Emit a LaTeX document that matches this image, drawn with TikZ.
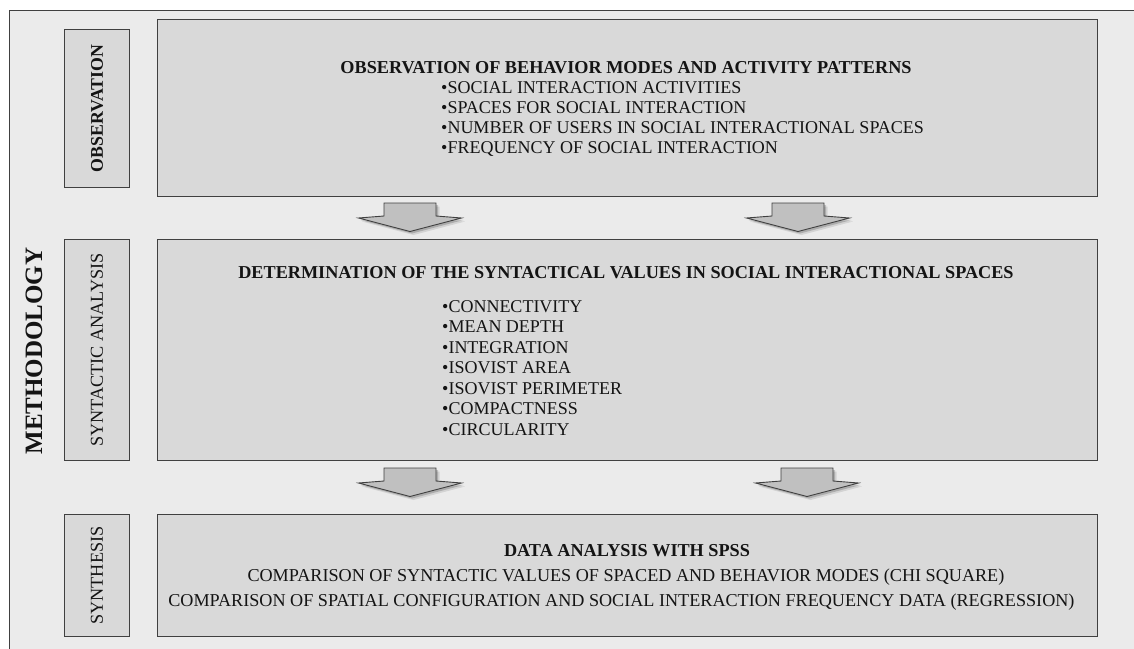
\documentclass[tikz,border=0pt]{standalone}
\usepackage{fontspec}
\setmainfont{Liberation Serif}
\definecolor{bggray}{HTML}{EBEBEB}
\definecolor{boxgray}{HTML}{D9D9D9}
\definecolor{arrowgray}{HTML}{C0C0C0}
\definecolor{edgec}{HTML}{404040}
\definecolor{textc}{HTML}{141414}
\newcommand\blkarrow[3]{%
  \fill[black, opacity=0.10, shift={(#2+3.5,#3+3.5)}]
    (-26,0) -- (26,0) -- (26,13) -- (51.5,15) -- (0,28.5) -- (-51.5,15) -- (-26,13) -- cycle;
  \fill[black, opacity=0.18, shift={(#2+2,#3+2)}]
    (-26,0) -- (26,0) -- (26,13) -- (51.5,15) -- (0,28.5) -- (-51.5,15) -- (-26,13) -- cycle;
  \draw[blockarr, shift={(#2,#3)}]
    (-26,0) coordinate (#1-top) -- (26,0) -- (26,13) -- (51.5,15) -- (0,28.5) coordinate (#1-tip) -- (-51.5,15) -- (-26,13) -- cycle;
}
\begin{document}
\begin{tikzpicture}[x=1pt,y=-1pt,
  mainbox/.style={draw=edgec, line width=1pt, fill=boxgray, inner sep=0pt, anchor=north west},
  labbox/.style={draw=edgec, line width=1pt, fill=boxgray, inner sep=0pt, anchor=north west, minimum width=65},
  labtxt/.style={rotate=90, inner sep=0pt, text=textc, font=\fontsize{18.2}{20}\selectfont},
  ttl/.style={anchor=base, inner sep=0pt, text=textc, font=\bfseries\fontsize{18.2}{20}\selectfont},
  itm/.style={anchor=base west, inner sep=0pt, text=textc, font=\fontsize{18}{20}\selectfont},
  ctr/.style={anchor=base, inner sep=0pt, text=textc, font=\fontsize{18.15}{20}\selectfont},
  blockarr/.style={fill=arrowgray, draw=edgec, line width=0.9pt, line join=miter}]
\useasboundingbox (0,0) rectangle (1134,648);
\begin{scope}
  \clip (0,0) rectangle (1134,648);
  \draw[fill=bggray, draw=edgec, line width=1pt] (9,10) rectangle (1160,670);
\end{scope}

% method label
\node[rotate=90, inner sep=0pt, text=textc, font=\bfseries\fontsize{25}{28}\selectfont] (meth) at (34,351) {METHODOLOGY};

% side labels
\node[labbox, minimum height=158] (l1) at (64,29) {};
\node[labtxt, font=\bfseries\fontsize{17.8}{20}\selectfont] (l1t) at (l1.center) {OBSERVATION};
\node[labbox, minimum height=221] (l2) at (64,239) {};
\node[labtxt] (l2t) at (l2.center) {SYNTACTIC ANALYSIS};
\node[labbox, minimum height=122] (l3) at (64,514) {};
\node[labtxt] (l3t) at (l3.center) {SYNTHESIS};

% main boxes
\node[mainbox, minimum width=940, minimum height=177] (b1) at (157,19) {};
\node[mainbox, minimum width=940, minimum height=221] (b2) at (157,239) {};
\node[mainbox, minimum width=940, minimum height=122] (b3) at (157,514) {};

% box 1 text
\node[ttl] (b1t) at (626,73) {OBSERVATION OF BEHAVIOR MODES AND ACTIVITY PATTERNS};
\node[itm] (b1a) at (441,93) {•SOCIAL INTERACTION ACTIVITIES};
\node[itm] (b1b) at (441,113) {•SPACES FOR SOCIAL INTERACTION};
\node[itm] (b1c) at (441,133) {•NUMBER OF USERS IN SOCIAL INTERACTIONAL SPACES};
\node[itm] (b1d) at (441,153) {•FREQUENCY OF SOCIAL INTERACTION};

% box 2 text
\node[ttl] (b2t) at (626,278) {DETERMINATION OF THE SYNTACTICAL VALUES IN SOCIAL INTERACTIONAL SPACES};
\node[itm] (b2a) at (442,312) {•CONNECTIVITY};
\node[itm] (b2b) at (442,332.5) {•MEAN DEPTH};
\node[itm] (b2c) at (442,353) {•INTEGRATION};
\node[itm] (b2d) at (442,373.5) {•ISOVIST AREA};
\node[itm] (b2e) at (442,394) {•ISOVIST PERIMETER};
\node[itm] (b2f) at (442,414.5) {•COMPACTNESS};
\node[itm] (b2g) at (442,435) {•CIRCULARITY};

% box 3 text
\node[ttl] (b3t) at (627,556) {DATA ANALYSIS WITH SPSS};
\node[ctr] (b3a) at (626,581) {COMPARISON OF SYNTACTIC VALUES OF SPACED AND BEHAVIOR MODES (CHI SQUARE)};
\node[ctr] (b3b) at (621.5,606) {COMPARISON OF SPATIAL CONFIGURATION AND SOCIAL INTERACTION FREQUENCY DATA (REGRESSION)};

% block arrows
\blkarrow{a1}{410}{203}
\blkarrow{a2}{798}{203}
\blkarrow{a3}{410}{468}
\blkarrow{a4}{807}{468}
\end{tikzpicture}
\end{document}
